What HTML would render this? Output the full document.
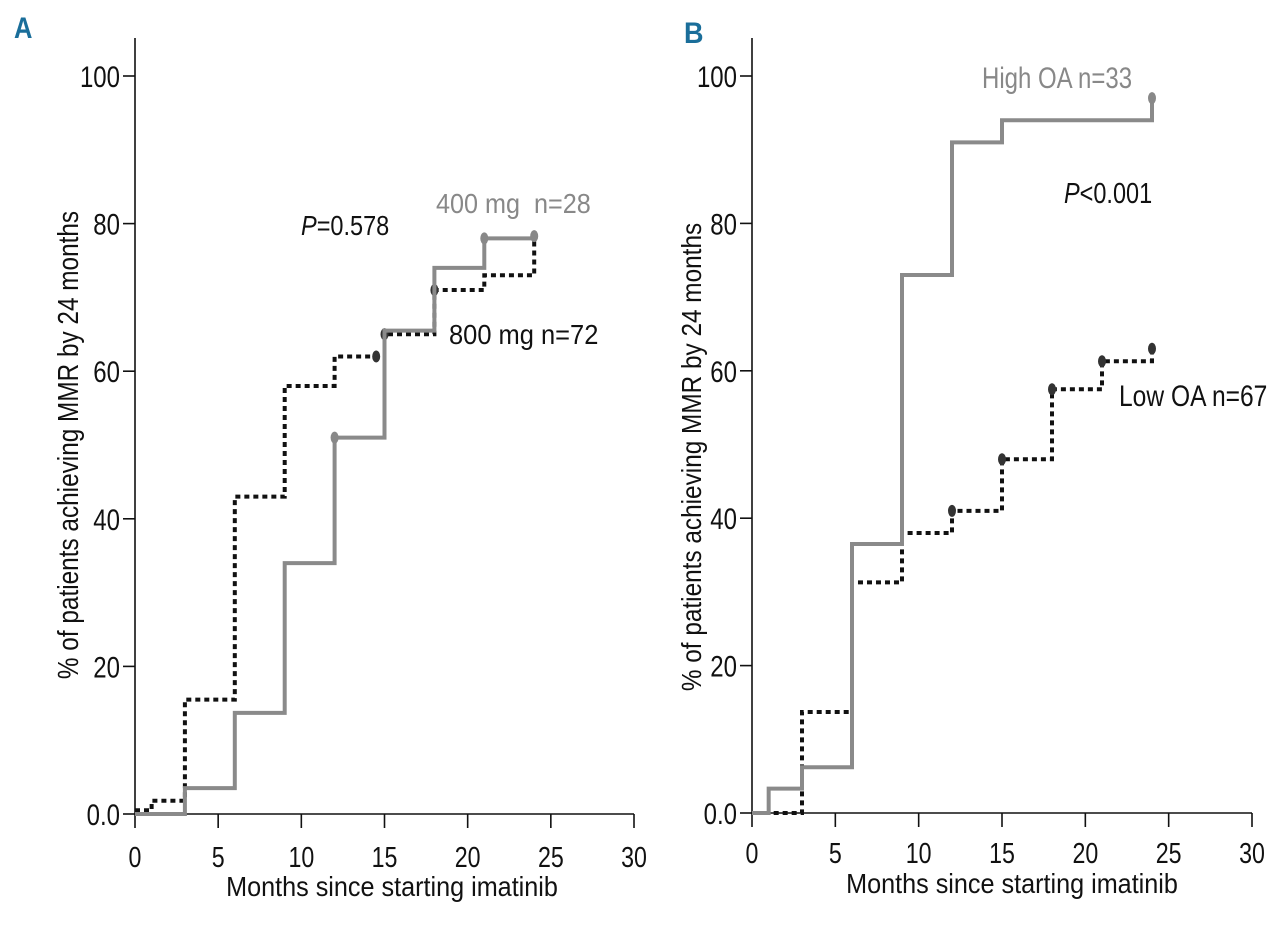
<!DOCTYPE html>
<html><head><meta charset="utf-8"><style>
body{margin:0;background:#fff;}
svg text{font-family:"Liberation Sans Narrow","Liberation Sans",sans-serif;}
</style></head><body>
<svg id="chart" width="1280" height="920" xmlns="http://www.w3.org/2000/svg"></svg>
<script>
const xTicks=[0,5,10,15,20,25,30];
const yTicks=[0,20,40,60,80,100];
const yTickLabels=["0.0","20","40","60","80","100"];
const aGrayT=[0,3,6,9,12,15,18,21,24];
const aGrayV=[0,3.5,13.7,34,51,65.5,74,78,78.3];
const aGrayCensT=[12,21,24];
const aGrayCensV=[51,78,78.3];
const aBlackT=[0,1,3,6,9,12,15,18,21,24];
const aBlackV=[0.5,1.8,15.5,43,58,62,65,71,73,78];
const aBlackCensT=[14.5,15,18];
const aBlackCensV=[62,65,71];
const bGrayT=[0,1,3,6,9,12,15,24];
const bGrayV=[0,3.3,6.2,36.5,73,91,94,97];
const bBlackT=[1.3,3,6,9,12,15,18,21,24];
const bBlackV=[0,13.7,31.3,38,41,48,57.5,61.3,63];
const bBlackCensT=[12,15,18,21,24];
const bBlackCensV=[41,48,57.5,61.3,63];

const NS="http://www.w3.org/2000/svg";
const svg=document.getElementById('chart');
function mk(tag,attrs,parent){const e=document.createElementNS(NS,tag);for(const k in attrs)e.setAttribute(k,attrs[k]);(parent||svg).appendChild(e);return e;}
function txt(s,x,y,attrs,name,sx,rot){
  const tr='translate('+x+','+y+')'+(rot?' rotate('+rot+')':'')+' scale('+(sx||1)+',1)';
  const t=mk('text',Object.assign({x:0,y:0,transform:tr},attrs));
  t.innerHTML=s;
  
  
  return t;}

function panel(p){
  const g=mk('g',{});
  
  
  const xs=v=>p.x0+(p.x1-p.x0)*v/30;
  const ys=v=>p.y0-(p.y0-p.y100)*v/100;
  const ax=mk('path',{d:`M${p.x0},38 V${p.y0} H${p.x1}`,fill:'none',stroke:'#111','stroke-width':1.6},g);
  
  
  xTicks.forEach(v=>{
    const l=mk('line',{x1:xs(v),x2:xs(v),y1:p.y0,y2:p.y0+14,stroke:'#111','stroke-width':1.6},g);
    
    
    txt(String(v),xs(v),p.xlb,{'font-size':29,'text-anchor':'middle',fill:'#111'},'x-tick-label',0.8);
  });
  yTicks.forEach((v,i)=>{
    const l=mk('line',{x1:p.x0-12,x2:p.x0,y1:ys(v),y2:ys(v),stroke:'#111','stroke-width':1.6},g);
    
    
    txt(yTickLabels[i],p.x0-15,ys(v)+11,{'font-size':30,'text-anchor':'end',fill:'#111'},'y-tick-label',0.8);
  });
  function step(T,V,color,dash,name){
    let d=`M${xs(T[0])},${ys(V[0])}`;
    for(let i=1;i<T.length;i++){d+=` H${xs(T[i])} V${ys(V[i])}`;}
    const a={d:d,fill:'none',stroke:color,'stroke-width':4};
    if(dash)a['stroke-dasharray']=dash;
    const pth=mk('path',a,g);
    
    
  }
  p.series.forEach(s=>{
    step(s.T,s.V,s.color,s.dash,s.name);
    (s.cT||[]).forEach((t,i)=>{
      const c=mk('ellipse',{cx:xs(t),cy:ys(s.cV[i]),rx:4,ry:6,fill:s.color==='#111'?'#333':'#888'},g);
      
      
    });
  });
}

panel({id:'a',x0:135,x1:634,y0:814,y100:76,xlb:867,series:[
  {T:aBlackT,V:aBlackV,color:'#111',dash:'5 4',name:'series-800mg',cT:aBlackCensT,cV:aBlackCensV},
  {T:aGrayT,V:aGrayV,color:'#8a8a8a',name:'series-400mg',cT:aGrayCensT,cV:aGrayCensV}]});
panel({id:'b',x0:752,x1:1252,y0:813,y100:76,xlb:863,series:[
  {T:bBlackT,V:bBlackV,color:'#111',dash:'5 4',name:'series-low-oa',cT:bBlackCensT,cV:bBlackCensV},
  {T:bGrayT,V:bGrayV,color:'#8a8a8a',name:'series-high-oa',cT:[24],cV:[97]}]});

txt('A',14,38,{'font-size':30,'font-weight':'bold',fill:'#1a6e9a'},'panel-a-label',0.85);
txt('B',684,43,{'font-size':30,'font-weight':'bold',fill:'#1a6e9a'},'panel-b-label',0.9);
txt('<tspan font-style="italic">P</tspan>=0.578',301,235,{'font-size':28,fill:'#111'},'p-value-a',0.84);
txt('400 mg&#160;&#160;n=28',436,213,{'font-size':28,fill:'#888'},'label-400mg',0.9);
txt('800 mg n=72',449,344,{'font-size':28,fill:'#111'},'label-800mg',0.91);
txt('High OA n=33',982,88,{'font-size':30,fill:'#888'},'label-high-oa',0.8);
txt('<tspan font-style="italic">P</tspan>&lt;0.001',1064,203,{'font-size':29,fill:'#111'},'p-value-b',0.81);
txt('Low OA n=67',1119,406,{'font-size':30,fill:'#111'},'label-low-oa',0.82);
txt('Months since starting imatinib',392,896,{'font-size':28,'text-anchor':'middle',fill:'#111'},'x-axis-title-a',0.9);
txt('Months since starting imatinib',1012,893,{'font-size':28,'text-anchor':'middle',fill:'#111'},'x-axis-title-b',0.9);
txt('% of patients achieving MMR by 24 months',78,445,{'font-size':29,'text-anchor':'middle',fill:'#111'},'y-axis-title-a',0.84,-90);
txt('% of patients achieving MMR by 24 months',701,457,{'font-size':28,'text-anchor':'middle',fill:'#111'},'y-axis-title-b',0.87,-90);
</script>
</body></html>
